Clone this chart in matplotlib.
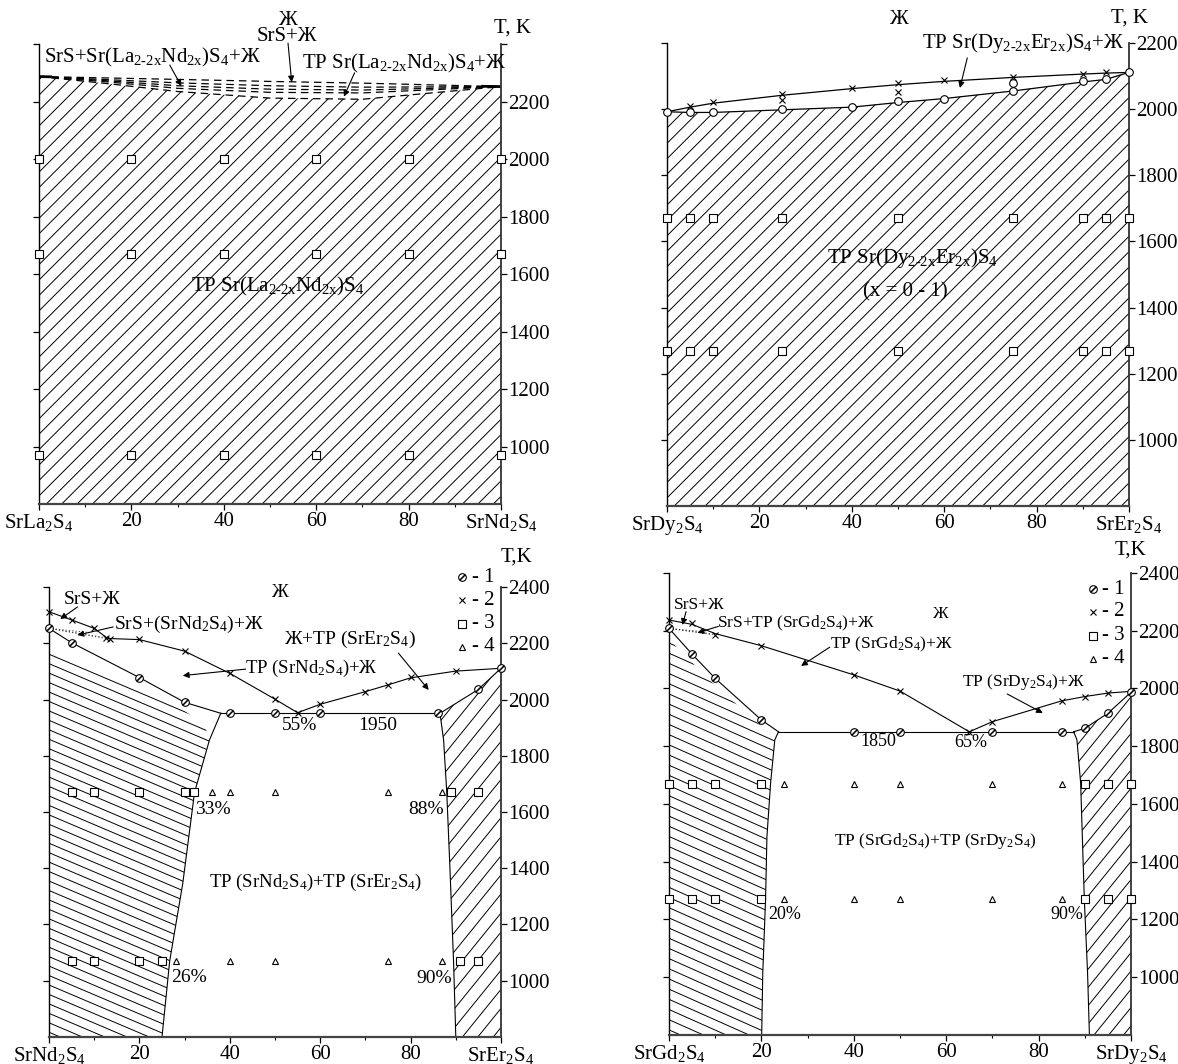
import numpy as np
import matplotlib
matplotlib.use('Agg')
import matplotlib.pyplot as plt
from matplotlib.patches import Polygon
from matplotlib.collections import LineCollection

plt.rcParams['font.family'] = ['Liberation Serif', 'DejaVu Serif']
plt.rcParams['mathtext.fontset'] = 'custom'
plt.rcParams['mathtext.rm'] = 'Liberation Serif'
plt.rcParams['mathtext.it'] = 'Liberation Serif:italic'
plt.rcParams['mathtext.default'] = 'regular'

# ---------------- data: SrLa2S4 - SrNd2S4 ----------------
a_sq_x = [0, 20, 40, 60, 80, 100]
a_sq_T = [2000, 1670, 970]
a_line_x = [0, 15, 30, 50, 70, 85, 100]
a_lines_T = [
    [2287, 2282, 2277, 2270, 2264, 2258, 2252],
    [2287, 2276, 2265, 2255, 2250, 2251, 2252],
    [2287, 2272, 2255, 2243, 2240, 2246, 2252],
    [2287, 2268, 2246, 2232, 2230, 2241, 2252],
    [2287, 2262, 2235, 2212, 2208, 2230, 2252],
]

# ---------------- data: SrDy2S4 - SrEr2S4 ----------------
b_sq_x = [0, 5, 10, 25, 50, 75, 90, 95, 100]
b_sq_T = [1670, 1270]
b_o_x = [0, 5, 10, 25, 40, 50, 60, 75, 75, 90, 95, 100]
b_o_T = [1992, 1990, 1990, 2000, 2006, 2024, 2032, 2055, 2078, 2085, 2091, 2111]
b_x_x = [5, 10, 25, 25, 40, 50, 50, 60, 75, 90, 95]
b_x_T = [2008, 2023, 2045, 2028, 2063, 2078, 2052, 2088, 2097, 2106, 2112]
b_sol_x = [0, 5, 10, 25, 40, 50, 60, 75, 90, 95, 100]
b_sol_T = [1992, 1990, 1990, 1998, 2006, 2020, 2032, 2055, 2082, 2090, 2111]
b_liq_x = [0, 5, 10, 25, 40, 50, 60, 75, 90, 95, 100]
b_liq_T = [1992, 2006, 2018, 2042, 2062, 2074, 2084, 2096, 2106, 2109, 2111]

# ---------------- data: SrNd2S4 - SrEr2S4 ----------------
c_1_x = [0, 5, 20, 30, 40, 50, 60, 86, 95, 100]
c_1_T = [2253, 2202, 2078, 1990, 1951, 1951, 1951, 1951, 2036, 2111]
c_2_x = [0, 5, 10, 12.5, 13.5, 20, 30, 40, 50, 55, 60, 70, 75, 80, 90]
c_2_T = [2312, 2283, 2253, 2220, 2215, 2215, 2172, 2093, 2001, 1953, 1983, 2028, 2052, 2081, 2101]
c_3_x = [[5, 10, 20, 30, 32, 89, 95], [5, 10, 20, 25, 91, 95]]
c_3_T = [1670, 1070]
c_4_x = [[36, 40, 50, 75, 87], [28, 40, 50, 75, 87]]
c_liq1_x = [0, 5, 10, 13, 20, 30, 40, 50, 55]
c_liq1_T = [2312, 2283, 2253, 2217, 2213, 2172, 2093, 2001, 1953]
c_liq2_x = [55, 60, 70, 75, 80, 90, 100]
c_liq2_T = [1953, 1983, 2028, 2052, 2077, 2101, 2111]
c_sol1_x = [0, 5, 20, 30, 38]
c_sol1_T = [2253, 2202, 2078, 1990, 1951]
c_eut_x = [38, 86.5]
c_eut_T = 1951
c_sol2_x = [86.5, 95, 100]
c_sol2_T = [1951, 2036, 2111]
c_solv1_x = [38, 35.5, 32.2, 29.6, 26.7, 25]
c_solv1_T = [1951, 1856, 1670, 1347, 1070, 800]
c_solv2_x = [86.5, 87.3, 88, 88.7, 89.5, 90]
c_solv2_T = [1951, 1856, 1670, 1400, 1070, 800]
c_dot_end_x = [12.5, 13.5, 9]
c_dot_end_T = [2220, 2214, 2238]
c_hatch1_x = [0, 0, 5, 20, 30, 34.5, 35.5, 32.2, 29.6, 26.7, 25]
c_hatch1_T = [800, 2180, 2150, 2040, 1960, 1905, 1856, 1670, 1347, 1070, 800]

# ---------------- data: SrGd2S4 - SrDy2S4 ----------------
d_1_x = [0, 5, 10, 20, 40, 50, 70, 85, 90, 95, 100]
d_1_T = [2208, 2119, 2035, 1891, 1850, 1850, 1850, 1850, 1862, 1914, 1987]
d_2_x = [0, 5, 10, 20, 40, 50, 65, 70, 85, 90, 95]
d_2_T = [2237, 2226, 2185, 2147, 2047, 1991, 1850, 1885, 1957, 1972, 1986]
d_3_x = [0, 5, 10, 20, 90, 95, 100]
d_3_T = [1670, 1270]
d_4_x = [25, 40, 50, 70, 85]
d_liq1_x = [0, 5, 10, 20, 40, 50, 65]
d_liq1_T = [2237, 2222, 2190, 2148, 2047, 1991, 1850]
d_liq2_x = [65, 70, 85, 90, 95, 100]
d_liq2_T = [1850, 1885, 1957, 1972, 1984, 1990]
d_sol1_x = [0, 5, 10, 20, 23.7]
d_sol1_T = [2208, 2119, 2035, 1891, 1850]
d_eut_x = [23.7, 87.6]
d_eut_T = 1850
d_sol2_x = [87.6, 90, 95, 100]
d_sol2_T = [1850, 1862, 1914, 1987]
d_solv1_x = [23.7, 22.9, 22, 21.2, 20.9, 20.3, 20.06]
d_solv1_T = [1850, 1822, 1673, 1487, 1268, 1015, 800]
d_solv2_x = [87.6, 88.3, 89.1, 89.9, 90.6, 91]
d_solv2_T = [1850, 1822, 1673, 1268, 1015, 800]
d_dot_end_x = [10, 8, 9]
d_dot_end_T = [2185, 2196, 2190]
d_hatch1_x = [0, 0, 5, 10, 20, 23, 22.9, 22, 21.2, 20.9, 20.3, 20.06]
d_hatch1_T = [800, 2170, 2090, 2010, 1870, 1840, 1822, 1673, 1487, 1268, 1015, 800]


def sub(s):
    return r'$_{\text{' + s + '}}$'


LaNd = 'Sr(La' + sub('2-2x') + 'Nd' + sub('2x') + ')S$_4$'
DyEr = 'Sr(Dy' + sub('2-2x') + 'Er' + sub('2x') + ')S$_4$'


def hatch(ax, xs, ys, angle, step, lw=0.7):
    pts = ax.transData.transform(np.column_stack([xs, ys]))
    a = np.deg2rad(angle)
    d = np.array([np.cos(a), np.sin(a)])
    n = np.array([-np.sin(a), np.cos(a)])
    proj = pts @ n
    inv = ax.transData.inverted()
    segs = []
    for p in np.arange(proj.min() + step * 0.5, proj.max(), step):
        c = p * n
        segs.append(inv.transform(np.array([c - 3000 * d, c + 3000 * d])))
    poly = Polygon(np.column_stack([xs, ys]), closed=True, facecolor='none', edgecolor='none')
    ax.add_patch(poly)
    lc = LineCollection(segs, colors='k', linewidths=lw)
    lc.set_clip_path(poly)
    ax.add_collection(lc)


def arrow(ax, tail, tip):
    ax.annotate('', xy=tip, xytext=tail,
                arrowprops=dict(arrowstyle='-|>', color='k', lw=0.8,
                                mutation_scale=9, shrinkA=0, shrinkB=0))


def setup(ax, ymax, left_lbl, right_lbl, label_top=True):
    ax.set_xlim(0, 100)
    ax.set_ylim(800, ymax)
    ax.set_autoscale_on(False)
    ax.spines['top'].set_visible(False)
    for s in ['left', 'right', 'bottom']:
        ax.spines[s].set_linewidth(1.0)
    ax.spines['bottom'].set_linewidth(1.6)
    ax.spines['bottom'].set_color('#444444')
    ax.spines['right'].set_linewidth(1.3)
    ax.spines['right'].set_color('#333333')
    yt = list(range(1000, ymax + 1, 200))
    ax.set_yticks(yt)
    ax.set_yticklabels([str(v) if (v < 2400 or label_top) else '' for v in yt])
    ax.set_xticks([0, 20, 40, 60, 80, 100])
    ax.set_xticks([10, 30, 50, 70, 90], minor=True)
    ax.set_xticklabels([left_lbl, '20', '40', '60', '80', right_lbl])
    ax.tick_params(axis='y', which='both', left=True, right=True, labelleft=False,
                   labelright=True, direction='out', length=4, width=0.9,
                   labelsize=15, pad=1)
    ax.tick_params(axis='x', which='major', direction='out', length=4, width=0.9,
                   labelsize=15, pad=2)
    ax.tick_params(axis='x', which='minor', direction='out', length=2.5, width=0.8)


def symbols(ax, xs, Ts, kind, clip=False):
    if kind == 1:
        ax.plot(xs, Ts, ls='none', marker='o', ms=5.5, mfc='white', mec='k', mew=0.8, clip_on=clip, zorder=5)
        ax.plot(xs, Ts, ls='none', marker=(2, 2, -45), ms=5.5, mec='k', mew=0.8, clip_on=clip, zorder=6)
    elif kind == 2:
        ax.plot(xs, Ts, ls='none', marker='x', ms=5, mec='k', mew=0.8, clip_on=clip, zorder=5)
    elif kind == 3:
        ax.plot(xs, Ts, ls='none', marker='s', ms=5.5, mfc='white', mec='k', mew=0.8, clip_on=clip, zorder=5)
    elif kind == 4:
        ax.plot(xs, Ts, ls='none', marker='^', ms=5, mfc='white', mec='k', mew=0.8, clip_on=clip, zorder=5)
    elif kind == 0:
        ax.plot(xs, Ts, ls='none', marker='o', ms=5.5, mfc='white', mec='k', mew=0.8, clip_on=clip, zorder=5)


def key(ax, xm, xt, ys, fs):
    for i, y in enumerate(ys):
        symbols(ax, [xm], [y], i + 1)
        ax.lines[-1].set_transform(ax.transAxes)
        if i == 0:
            ax.lines[-2].set_transform(ax.transAxes)
        ax.text(xt, y, '- ' + str(i + 1), transform=ax.transAxes, fontsize=fs,
                ha='left', va='center')


fig = plt.figure(figsize=(11.78, 10.64), dpi=100)

# ---------------- panel 1 ----------------
ax1 = fig.add_axes([0.0331, 0.5263, 0.3922, 0.4323])
setup(ax1, 2400, 'SrLa$_2$S$_4$', 'SrNd$_2$S$_4$', label_top=False)
hatch(ax1, a_line_x + [100, 0], a_lines_T[-1] + [800, 800], 45, 10.9)
for Ts in a_lines_T:
    ax1.plot(a_line_x, Ts, color='k', lw=0.9, ls=(0, (6, 4)))
ax1.plot([0, 2.5], [2287, 2286], color='k', lw=2)
ax1.plot([96, 100], [2253, 2252], color='k', lw=2)
for T in a_sq_T:
    symbols(ax1, a_sq_x, [T] * len(a_sq_x), 3)
ax1.text(54, 2483, 'Ж', fontsize=15, ha='center', va='center')
ax1.text(53.7, 2425, 'SrS+Ж', fontsize=15, ha='center', va='center')
arrow(ax1, (53.9, 2403), (54.7, 2267))
ax1.text(24.6, 2355, 'SrS+' + LaNd + '+Ж', fontsize=15, ha='center', va='center')
arrow(ax1, (28.3, 2327), (30.8, 2254))
ax1.text(79, 2334, 'ТР ' + LaNd + '+Ж', fontsize=15, ha='center', va='center')
arrow(ax1, (68.3, 2300), (66, 2217))
ax1.text(51.6, 1556, 'ТР ' + LaNd, fontsize=15, ha='center', va='center')
ax1.text(1.024, 1.035, 'T, K', transform=ax1.transAxes, fontsize=15, ha='center', va='center')

# ---------------- panel 2 ----------------
ax2 = fig.add_axes([0.5662, 0.5244, 0.3922, 0.4352])
setup(ax2, 2200, 'SrDy$_2$S$_4$', 'SrEr$_2$S$_4$')
hatch(ax2, b_sol_x + [100, 0], b_sol_T + [800, 800], 45, 10.9)
ax2.plot(b_sol_x, b_sol_T, color='k', lw=0.9)
ax2.plot(b_liq_x, b_liq_T, color='k', lw=0.9)
for T in b_sq_T:
    symbols(ax2, b_sq_x, [T] * len(b_sq_x), 3)
symbols(ax2, b_x_x, b_x_T, 2)
symbols(ax2, b_o_x, b_o_T, 0)
ax2.text(50.2, 2270, 'Ж', fontsize=15, ha='center', va='center')
ax2.text(77, 2200, 'ТР ' + DyEr + '+Ж', fontsize=15, ha='center', va='center')
arrow(ax2, (65, 2155), (63.4, 2064))
ax2.text(53.2, 1551, 'ТР ' + DyEr, fontsize=15, ha='center', va='center')
ax2.text(51.5, 1449, '(x = 0 - 1)', fontsize=15, ha='center', va='center')
ax2.text(1.002, 1.054, 'T, K', transform=ax2.transAxes, fontsize=15, ha='center', va='center')

# ---------------- panel 3 ----------------
ax3 = fig.add_axes([0.0416, 0.0254, 0.3837, 0.4229])
setup(ax3, 2400, 'SrNd$_2$S$_4$', 'SrEr$_2$S$_4$')
hatch(ax3, c_hatch1_x, c_hatch1_T, -23, 8.7)
hatch(ax3, c_solv2_x[::-1] + c_sol2_x[1:] + [100], c_solv2_T[::-1] + c_sol2_T[1:] + [800], 51, 12)
ax3.plot(c_liq1_x, c_liq1_T, color='k', lw=0.8)
ax3.plot(c_liq2_x, c_liq2_T, color='k', lw=0.8)
ax3.plot(c_sol1_x, c_sol1_T, color='k', lw=0.8)
ax3.plot(c_eut_x, [c_eut_T] * 2, color='k', lw=0.8)
ax3.plot(c_sol2_x, c_sol2_T, color='k', lw=0.8)
ax3.plot(c_solv1_x, c_solv1_T, color='k', lw=0.8)
ax3.plot(c_solv2_x, c_solv2_T, color='k', lw=0.8)
for xe, Te in zip(c_dot_end_x, c_dot_end_T):
    ax3.plot([0, xe], [2253, Te], color='#333333', lw=0.6, ls=(0, (1.5, 2.5)))
symbols(ax3, c_1_x, c_1_T, 1)
symbols(ax3, c_2_x, c_2_T, 2)
for xs, T in zip(c_3_x, c_3_T):
    symbols(ax3, xs, [T] * len(xs), 3)
for xs, T in zip(c_4_x, c_3_T):
    symbols(ax3, xs, [T] * len(xs), 4)
key(ax3, 0.914, 0.935, [1.022, 0.971, 0.918, 0.867], 15)
fs3 = 13.5
ax3.text(51, 2379, 'Ж', fontsize=fs3, ha='center', va='center')
ax3.text(9.6, 2357, 'SrS+Ж', fontsize=fs3 + 0.5, ha='center', va='center')
arrow(ax3, (6.3, 2329), (2.5, 2286))
ax3.text(31, 2268, 'SrS+(SrNd$_2$S$_4$)+Ж', fontsize=fs3 + 0.5, ha='center', va='center')
arrow(ax3, (14.2, 2258), (6.3, 2229))
ax3.text(66.6, 2212, 'Ж+ТР (SrEr$_2$S$_4$)', fontsize=fs3 + 0.5, ha='center', va='center')
arrow(ax3, (77.3, 2165), (84, 2034))
ax3.text(58, 2112, 'ТР (SrNd$_2$S$_4$)+Ж', fontsize=fs3, ha='center', va='center')
arrow(ax3, (43.5, 2108), (29.6, 2085))
ax3.text(55.5, 1909, '55%', fontsize=fs3 + 0.5, ha='center', va='center')
ax3.text(72.7, 1909, '1950', fontsize=fs3 + 0.5, ha='center', va='center')
ax3.text(36.3, 1610, '33%', fontsize=fs3 + 0.5, ha='center', va='center')
ax3.text(83.5, 1610, '88%', fontsize=fs3 + 0.5, ha='center', va='center')
ax3.text(30.9, 1010, '26%', fontsize=fs3 + 0.5, ha='center', va='center')
ax3.text(85.2, 1008, '90%', fontsize=fs3 + 0.5, ha='center', va='center')
ax3.text(59, 1349, 'ТР (SrNd$_2$S$_4$)+ТР (SrEr$_2$S$_4$)', fontsize=fs3, ha='center', va='center')
ax3.text(1.035, 1.067, 'T,K', transform=ax3.transAxes, fontsize=15, ha='center', va='center')

# ---------------- panel 4 ----------------
ax4 = fig.add_axes([0.5679, 0.0273, 0.3922, 0.4342])
setup(ax4, 2400, 'SrGd$_2$S$_4$', 'SrDy$_2$S$_4$')
hatch(ax4, d_hatch1_x, d_hatch1_T, -24, 9.3)
hatch(ax4, d_solv2_x[::-1] + d_sol2_x[1:] + [100], d_solv2_T[::-1] + d_sol2_T[1:] + [800], 51, 11.5)
ax4.plot(d_liq1_x, d_liq1_T, color='k', lw=0.8)
ax4.plot(d_liq2_x, d_liq2_T, color='k', lw=0.8)
ax4.plot(d_sol1_x, d_sol1_T, color='k', lw=0.8)
ax4.plot(d_eut_x, [d_eut_T] * 2, color='k', lw=0.8)
ax4.plot(d_sol2_x, d_sol2_T, color='k', lw=0.8)
ax4.plot(d_solv1_x, d_solv1_T, color='k', lw=0.8)
ax4.plot(d_solv2_x, d_solv2_T, color='k', lw=0.8)
for xe, Te in zip(d_dot_end_x, d_dot_end_T):
    ax4.plot([0, xe], [2208, Te], color='#333333', lw=0.6, ls=(0, (1.5, 2.5)))
symbols(ax4, d_1_x, d_1_T, 1)
symbols(ax4, d_2_x, d_2_T, 2)
for T in d_3_T:
    symbols(ax4, d_3_x, [T] * len(d_3_x), 3)
    symbols(ax4, d_4_x, [T] * len(d_4_x), 4)
key(ax4, 0.917, 0.937, [0.965, 0.916, 0.864, 0.814], 15)
fs4 = 12.5
ax4.text(58.9, 2258, 'Ж', fontsize=fs4, ha='center', va='center')
ax4.text(6.6, 2289, 'SrS+Ж', fontsize=fs4, ha='center', va='center')
arrow(ax4, (3.7, 2266), (2.9, 2220))
ax4.text(27.6, 2227, 'SrS+ТР (SrGd$_2$S$_4$)+Ж', fontsize=fs4, ha='center', va='center')
arrow(ax4, (10.7, 2215), (6.2, 2193))
ax4.text(48.2, 2154, 'ТР (SrGd$_2$S$_4$)+Ж', fontsize=fs4, ha='center', va='center')
arrow(ax4, (34.8, 2143), (28.6, 2078))
ax4.text(76.8, 2024, 'ТР (SrDy$_2$S$_4$)+Ж', fontsize=fs4, ha='center', va='center')
arrow(ax4, (73.2, 1981), (80.9, 1915))
ax4.text(45.4, 1815, '1850', fontsize=13, ha='center', va='center')
ax4.text(65.4, 1812, '65%', fontsize=13, ha='center', va='center')
ax4.text(25, 1216, '20%', fontsize=13, ha='center', va='center')
ax4.text(86.2, 1216, '90%', fontsize=13, ha='center', va='center')
ax4.text(57.6, 1470, 'ТР (SrGd$_2$S$_4$)+ТР (SrDy$_2$S$_4$)', fontsize=fs4, ha='center', va='center')
ax4.text(1.0, 1.05, 'T,K', transform=ax4.transAxes, fontsize=15, ha='center', va='center')

plt.savefig('out.png', dpi=100)
